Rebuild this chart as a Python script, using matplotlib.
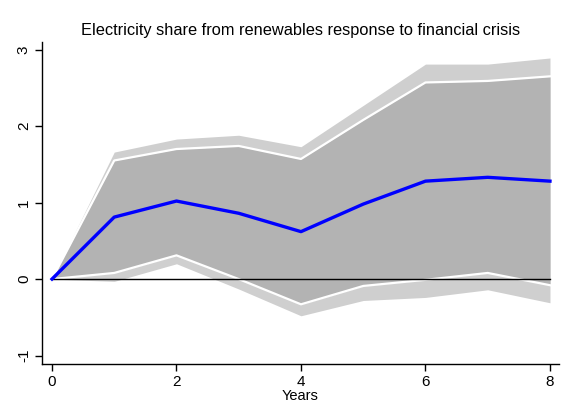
import matplotlib
matplotlib.use('Agg')
import matplotlib.pyplot as plt

plt.rcParams['font.family'] = ['Liberation Sans', 'DejaVu Sans']
plt.rcParams['axes.unicode_minus'] = False

# horizon (years)
years = [0, 1, 2, 3, 4, 5, 6, 7, 8]

# point estimate
irf = [0.0, 0.81, 1.02, 0.86, 0.62, 0.98, 1.28, 1.33, 1.28]

# inner band (white edges)
inner_hi = [0.0, 1.55, 1.70, 1.74, 1.57, 2.08, 2.57, 2.59, 2.65]
inner_lo = [0.0, 0.08, 0.31, 0.0, -0.33, -0.09, -0.01, 0.08, -0.08]

# outer band
outer_hi = [0.0, 1.66, 1.83, 1.88, 1.73, 2.27, 2.81, 2.81, 2.89]
outer_lo = [0.0, -0.03, 0.20, -0.13, -0.48, -0.28, -0.24, -0.14, -0.31]

title = 'Electricity share from renewables response to financial crisis'

fig = plt.figure(figsize=(5.71, 4.03), dpi=100)
ax = fig.add_axes([0.0736, 0.0968, 0.9054, 0.7992])

ax.fill_between(years, outer_lo, outer_hi, color='#cfcfcf', linewidth=0)
ax.fill_between(years, inner_lo, inner_hi, color='#b3b3b3', linewidth=0)
ax.plot(years, inner_hi, color='white', linewidth=1.6)
ax.plot(years, inner_lo, color='white', linewidth=1.6)
ax.plot([years[0], years[-1]], [0, 0], color='black', linewidth=1.0)
ax.plot(years, irf, color='#0000ff', linewidth=2.4)

ax.set_xlim(-0.16, 8.145)
ax.set_ylim(-1.11, 3.10)
ax.set_xticks([0, 2, 4, 6, 8])
ax.set_yticks([-1, 0, 1, 2, 3])
ax.tick_params(direction='out', length=5, width=1, labelsize=11, pad=3)
for lbl in ax.get_yticklabels():
    lbl.set_rotation(90)
    lbl.set_va('center')

for side in ['top', 'right']:
    ax.spines[side].set_visible(False)
for side in ['left', 'bottom']:
    ax.spines[side].set_linewidth(1.0)

ax.set_xlabel('Years', fontsize=10.5, labelpad=0)
ax.set_title(title, fontsize=11.8, pad=5)

fig.savefig('out.png', dpi=100)
